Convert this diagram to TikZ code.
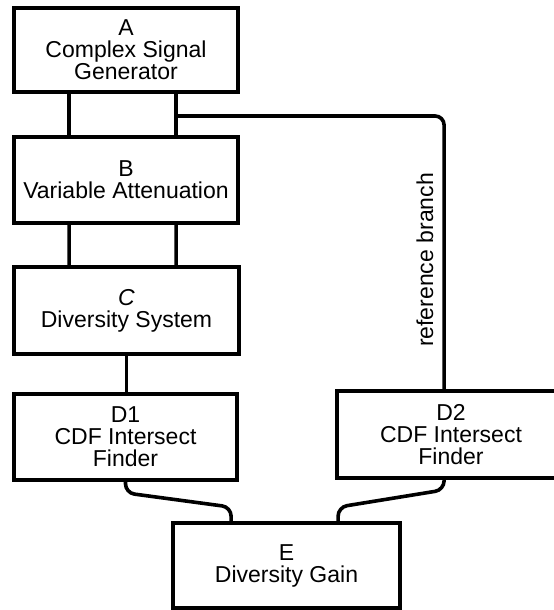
\documentclass[tikz,border=0pt]{standalone}
\usepackage{fontspec}
\setmainfont{Liberation Sans}
\begin{document}
\begin{tikzpicture}[x=1bp,y=-1bp,
  box/.style={draw, line width=3.8bp, inner sep=0pt, align=center,
    font=\fontsize{23bp}{22bp}\selectfont},
  wire/.style={line width=3.6bp, rounded corners=9bp},
  lbl/.style={font=\fontsize{23bp}{23bp}\selectfont, inner sep=0pt}]
\useasboundingbox (0,0) rectangle (554,610);
\clip (0,0) rectangle (554,610);
\fill[white] (0,0) rectangle (554,610);
\node[box, minimum width=224bp, minimum height=84bp] (A) at (126,50) {A\\Complex Signal\\Generator};
\node[box, minimum width=224bp, minimum height=86bp] (B) at (126,180) {B\\Variable Attenuation};
\node[box, minimum width=225bp, minimum height=87bp] (C) at (126.5,310.5) {\itshape C\\Diversity System};
\node[box, minimum width=223bp, minimum height=86bp] (D1) at (125.5,437) {D1\\CDF Intersect\\Finder};
\node[box, minimum width=228bp, minimum height=87bp] (D2) at (451,434.5) {D2\\CDF Intersect\\Finder};
\node[box, minimum width=227bp, minimum height=85bp] (E) at (286.5,565.5) {E\\Diversity Gain};
% A - B
\draw[wire] ([xshift=57bp]A.south west) -- ([xshift=57bp]B.north west);
\draw[wire] ([xshift=164bp]A.south west) -- ([xshift=164bp]B.north west);
% B - C
\draw[wire] ([xshift=57bp]B.south west) -- ([xshift=57bp]C.north west);
\draw[wire] ([xshift=164bp]B.south west) -- ([xshift=164bp]C.north west);
% C - D1
\draw[wire] (C.south) -- (C.south |- D1.north);
% reference branch
\coordinate (br) at (178,116);
\coordinate (d2top) at ([xshift=109bp]D2.north west);
\draw[wire] (br) -| (d2top);
\node[lbl, rotate=90] (rb) at (425,260) {reference branch};
% D1 - E
\coordinate (e1) at ([xshift=60bp]E.north west);
\coordinate (e2) at ([xshift=167bp]E.north west);
\coordinate (d2bot) at ([xshift=109bp]D2.south west);
\draw[wire] (D1.south) -- ([yshift=-11bp]D1.south) -- ([yshift=14bp]e1) -- (e1);
\draw[wire] (d2bot) -- ([yshift=-10bp]d2bot) -- ([yshift=14bp]e2) -- (e2);
\end{tikzpicture}
\end{document}
